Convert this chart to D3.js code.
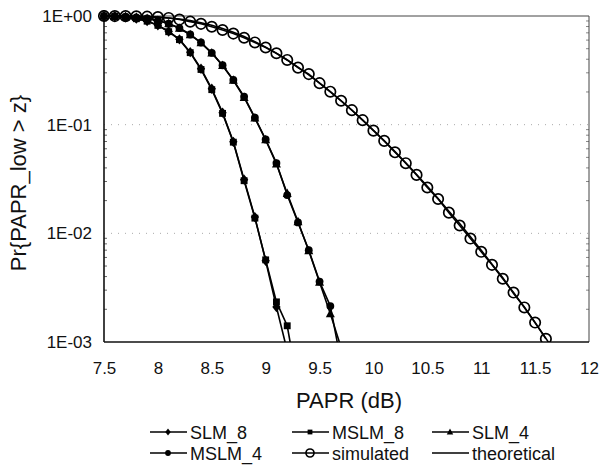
<!DOCTYPE html>
<html>
<head>
<meta charset="utf-8">
<script src="https://cdn.jsdelivr.net/npm/d3@7/dist/d3.min.js"></script>
<style>
  html, body { margin: 0; padding: 0; background: #fff; }
  svg { display: block; font-family: "Liberation Sans", Arial, Helvetica, sans-serif; }
</style>
</head>
<body>
<svg id="chart" width="601" height="470"></svg>
<script>
// ---------- data ----------
const xTicks = [7.5, 8, 8.5, 9, 9.5, 10, 10.5, 11, 11.5, 12];
const yTicks = [1, 0.1, 0.01, 0.001];
const yTickLabels = ["1E+00", "1E-01", "1E-02", "1E-03"];

const xSim = [7.5,7.6,7.7,7.8,7.9,8.0,8.1,8.2,8.3,8.4,8.5,8.6,8.7,8.8,8.9,9.0,9.1,9.2,9.3,9.4,9.5,
              9.6,9.7,9.8,9.9,10.0,10.1,10.2,10.3,10.4,10.5,10.6,10.7,10.8,10.9,11.0,11.1,11.2,11.3,11.4,11.5,11.6];
const simulated = [1.0,0.998,0.997,0.993,0.986,0.976,0.960,0.927,0.887,0.847,0.796,0.743,0.689,0.631,0.571,0.513,
                   0.454,0.394,0.335,0.292,0.241,0.201,0.166,0.136,0.110,0.0881,0.0709,0.0557,0.0442,0.0345,
                   0.0264,0.0207,0.0155,0.0118,0.00895,0.00676,0.00513,0.00382,0.00285,0.00208,0.00151,0.00107];

const xTheo = [7.5,7.6,7.7,7.8,7.9,8.0,8.1,8.2,8.3,8.4,8.5,8.6,8.7,8.8,8.9,9.0,9.1,9.2,9.3,9.4,9.5,
               9.6,9.7,9.8,9.9,10.0,10.1,10.2,10.3,10.4,10.5,10.6,10.7,10.8,10.9,11.0,11.1,11.2,11.3,11.4,11.5,11.6,11.7];
const theoretical = [0.9997,0.9985,0.9966,0.9929,0.9864,0.9758,0.9597,0.9371,0.9067,0.8683,0.8220,0.7684,0.7092,
                     0.6462,0.5814,0.5167,0.4535,0.3935,0.3377,0.2868,0.2410,0.2007,0.1657,0.1358,0.1102,0.0888,
                     0.0710,0.0565,0.0445,0.0348,0.0271,0.0209,0.0160,0.0123,0.0093,0.0070,0.0052,0.0039,0.0028,
                     0.0021,0.0015,0.00108,0.00077];

const x8 = [7.5,7.6,7.7,7.8,7.9,8.0,8.1,8.2,8.3,8.4,8.5,8.6,8.7,8.8,8.9,9.0,9.1,9.2,9.3];
const slm8  = [0.998,0.99,0.975,0.945,0.898,0.822,0.72,0.61,0.465,0.327,0.214,0.129,0.0695,0.0312,0.0141,0.0056,0.0021,0.00083,0.0002];
const mslm8 = [1.0,0.99,0.973,0.944,0.896,0.82,0.717,0.606,0.46,0.322,0.21,0.127,0.069,0.0305,0.0138,0.0057,0.00234,0.00141,0.00039];

const x4 = [7.5,7.6,7.7,7.8,7.9,8.0,8.1,8.2,8.3,8.4,8.5,8.6,8.7,8.8,8.9,9.0,9.1,9.2,9.3,9.4,9.5,9.6,9.7];
const slm4  = [0.998,0.993,0.986,0.972,0.947,0.908,0.847,0.771,0.673,0.566,0.456,0.35,0.256,0.178,0.115,0.0725,
               0.0435,0.0232,0.0128,0.0069,0.00355,0.00182,0.00089];
const mslm4 = [0.999,0.994,0.987,0.973,0.948,0.91,0.85,0.774,0.676,0.57,0.458,0.352,0.258,0.181,0.116,0.073,
               0.0443,0.0225,0.0126,0.0070,0.0036,0.00214,0.00065];

const legendNames = ["SLM_8", "MSLM_8", "SLM_4", "MSLM_4", "simulated", "theoretical"];

// ---------- chart ----------
const svg = d3.select("#chart");
const L = 104, R = 589, T = 16, B = 342;
const x = d3.scaleLinear().domain([7.5, 12]).range([L, R]);
const y = d3.scaleLog().domain([0.001, 1]).range([B, T]);

svg.append("defs").append("clipPath").attr("id", "plotclip")
  .append("rect").attr("x", L - 6).attr("y", T - 6).attr("width", R - L + 6).attr("height", B - T + 6);

// faint dotted grid at decades
const grid = svg.append("g");
grid.selectAll("line.g").data([0.1, 0.01]).enter().append("line")
  .attr("x1", L).attr("x2", R).attr("y1", d => y(d)).attr("y2", d => y(d))
  .attr("stroke", "#aaa").attr("stroke-width", 1).attr("stroke-dasharray", "1,6");

// minor log ticks (inner)
const minors = [];
[0.001, 0.01, 0.1].forEach(dec => { for (let k = 2; k <= 9; k++) minors.push(dec * k); });
grid.selectAll("line.ml").data(minors).enter().append("line")
  .attr("x1", L).attr("x2", L + 3).attr("y1", d => y(d)).attr("y2", d => y(d))
  .attr("stroke", "#666").attr("stroke-width", 1);
grid.selectAll("line.mr").data(minors).enter().append("line")
  .attr("x1", R - 3).attr("x2", R).attr("y1", d => y(d)).attr("y2", d => y(d))
  .attr("stroke", "#888").attr("stroke-width", 1);

// frame
svg.append("line").attr("x1", L).attr("x2", R).attr("y1", T).attr("y2", T)
  .attr("stroke", "#444").attr("stroke-width", 1);
svg.append("line").attr("x1", R).attr("x2", R).attr("y1", T).attr("y2", B)
  .attr("stroke", "#444").attr("stroke-width", 1);

// axes
const xAxis = svg.append("g").attr("transform", `translate(0,${B})`)
  .call(d3.axisBottom(x).tickValues(xTicks).tickSize(0).tickPadding(20).tickFormat(d => String(d)));
xAxis.select(".domain").remove();
xAxis.selectAll("text").attr("font-size", 17).attr("fill", "#111")
  .attr("font-family", "'Liberation Sans', Arial, sans-serif");

const yAxis = svg.append("g").attr("transform", `translate(${L},0)`)
  .call(d3.axisLeft(y).tickValues(yTicks).tickSize(0).tickPadding(12)
    .tickFormat((d, i) => yTickLabels[i]));
yAxis.select(".domain").remove();
yAxis.selectAll("text").attr("font-size", 17).attr("fill", "#111")
  .attr("font-family", "'Liberation Sans', Arial, sans-serif");

svg.append("line").attr("x1", L).attr("x2", L).attr("y1", T).attr("y2", B)
  .attr("stroke", "#111").attr("stroke-width", 1.6);
svg.append("line").attr("x1", L).attr("x2", R).attr("y1", B).attr("y2", B)
  .attr("stroke", "#111").attr("stroke-width", 1.6);

// axis titles
svg.append("text").attr("x", 349).attr("y", 408).attr("text-anchor", "middle")
  .attr("font-size", 22).attr("fill", "#111").text("PAPR (dB)");
svg.append("text").attr("transform", "translate(26,183) rotate(-90)").attr("text-anchor", "middle")
  .attr("font-size", 22).attr("fill", "#111").text("Pr{PAPR_low > z}");

// marker drawing helper
function marker(g, type, cx, cy, s) {
  if (type === "diamond") {
    g.append("path").attr("d", `M${cx},${cy - s}L${cx + s * 0.8},${cy}L${cx},${cy + s}L${cx - s * 0.8},${cy}Z`)
      .attr("fill", "#000");
  } else if (type === "square") {
    g.append("rect").attr("x", cx - s * 0.8).attr("y", cy - s * 0.8).attr("width", s * 1.6).attr("height", s * 1.6)
      .attr("fill", "#000");
  } else if (type === "triangle") {
    g.append("path").attr("d", `M${cx},${cy - s}L${cx + s * 0.9},${cy + s * 0.7}L${cx - s * 0.9},${cy + s * 0.7}Z`)
      .attr("fill", "#000");
  } else if (type === "dot") {
    g.append("circle").attr("cx", cx).attr("cy", cy).attr("r", s * 0.85).attr("fill", "#000");
  } else if (type === "open") {
    g.append("circle").attr("cx", cx).attr("cy", cy).attr("r", s).attr("fill", "none")
      .attr("stroke", "#000").attr("stroke-width", 1.7);
  }
}

const plot = svg.append("g").attr("clip-path", "url(#plotclip)");
const line = d3.line().x(d => x(d[0])).y(d => y(d[1]));

const series = [
  { name: "theoretical", xs: xTheo, ys: theoretical, m: null },
  { name: "simulated", xs: xSim, ys: simulated, m: "open", s: 5.2 },
  { name: "MSLM_4", xs: x4, ys: mslm4, m: "dot", s: 4.6 },
  { name: "SLM_4", xs: x4, ys: slm4, m: "triangle", s: 5 },
  { name: "SLM_8", xs: x8, ys: slm8, m: "diamond", s: 5.2 },
  { name: "MSLM_8", xs: x8, ys: mslm8, m: "square", s: 4.3 }
];

series.forEach(sr => {
  const pts = sr.xs.map((v, i) => [v, sr.ys[i]]);
  plot.append("path").datum(pts).attr("d", line)
    .attr("fill", "none").attr("stroke", "#000").attr("stroke-width", 1.6);
});
series.forEach(sr => {
  if (!sr.m) return;
  const g = plot.append("g");
  sr.xs.forEach((v, i) => {
    const py = y(sr.ys[i]);
    if (py > B + 2) return;
    marker(g, sr.m, x(v), py, sr.s);
  });
});

// legend
const legendMarkers = { "SLM_8": "diamond", "MSLM_8": "square", "SLM_4": "triangle",
                        "MSLM_4": "dot", "simulated": "open", "theoretical": null };
const legendSizes = { "SLM_8": 3.4, "MSLM_8": 3.0, "SLM_4": 3.6, "MSLM_4": 3.4, "simulated": 4, "theoretical": 0 };
const colX = [150, 292, 432];
const rowY = [432, 453];
const lg = svg.append("g");
legendNames.forEach((nm, i) => {
  const cx0 = colX[i % 3], cy0 = rowY[Math.floor(i / 3)];
  lg.append("line").attr("x1", cx0).attr("x2", cx0 + 37).attr("y1", cy0).attr("y2", cy0)
    .attr("stroke", "#000").attr("stroke-width", 1.5);
  if (legendMarkers[nm]) marker(lg, legendMarkers[nm], cx0 + 18, cy0, legendSizes[nm]);
  lg.append("text").attr("x", cx0 + 40).attr("y", cy0 + 6.5).attr("font-size", 18).attr("fill", "#111").text(nm);
});
</script>
</body>
</html>
